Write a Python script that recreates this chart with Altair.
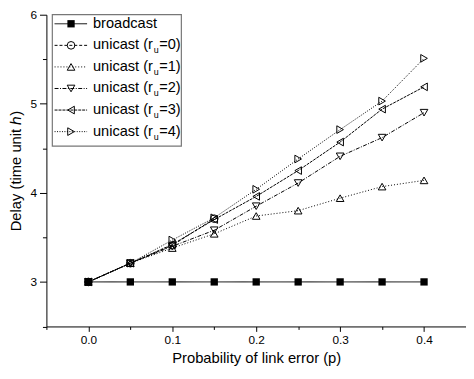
import altair as alt
import pandas as pd

# ---- data ----
p = [0.0, 0.05, 0.1, 0.15, 0.2, 0.25, 0.3, 0.35, 0.4]
broadcast = [3.0, 3.0, 3.0, 3.0, 3.0, 3.0, 3.0, 3.0, 3.0]
unicast_r0 = [3.0, 3.21, 3.41, 3.71]
unicast_r1 = [3.0, 3.21, 3.38, 3.54, 3.74, 3.80, 3.94, 4.07, 4.14]
unicast_r2 = [3.0, 3.21, 3.40, 3.58, 3.85, 4.11, 4.41, 4.62, 4.90]
unicast_r3 = [3.0, 3.21, 3.42, 3.70, 3.96, 4.25, 4.57, 4.94, 5.19]
unicast_r4 = [3.0, 3.21, 3.47, 3.72, 4.04, 4.38, 4.71, 5.03, 5.51]

keys = ["broadcast", "r0", "r1", "r2", "r3", "r4"]
label_main = ["broadcast", "unicast (r", "unicast (r", "unicast (r", "unicast (r", "unicast (r"]
label_sub = ["", "u", "u", "u", "u", "u"]
label_end = ["", "=0)", "=1)", "=2)", "=3)", "=4)"]
shapes = ["square", "circle", "triangle-up", "triangle-down", "triangle-left", "triangle-right"]
dashes = [[1, 0], [3, 2], [1, 2], [4, 1.5, 1, 1.5], [3, 1], [1, 1.5]]

series_values = [broadcast, unicast_r0, unicast_r1, unicast_r2, unicast_r3, unicast_r4]
rows = []
for k, vals in zip(keys, series_values):
    for pi, v in zip(p, vals):
        rows.append({"p": pi, "delay": v, "series": k})
df = pd.DataFrame(rows)

leg = pd.DataFrame({"series": keys, "idx": list(range(len(keys))),
                    "t1": label_main, "t2": label_sub, "t3": label_end})

FONT = "Liberation Sans"

shape_scale = alt.Scale(domain=keys, range=shapes)
dash_scale = alt.Scale(domain=keys, range=dashes)

x_ticks = [-0.05, 0.0, 0.05, 0.1, 0.15, 0.2, 0.25, 0.3, 0.35, 0.4, 0.45]
y_ticks = [2.5, 3, 3.5, 4, 4.5, 5, 5.5, 6]

X = alt.X("p:Q",
          scale=alt.Scale(domain=[-0.05, 0.45], nice=False, zero=False),
          axis=alt.Axis(values=x_ticks, grid=False,
                        title="Probability of link error (p)",
                        labelExpr="round(datum.value*20) % 2 == 0 ? format(datum.value, '.1f') : ''",
                        tickSize={"condition": {"test": "round(datum.value*20) % 2 == 0", "value": 5}, "value": 3},
                        labelFlush=False, labelOverlap=False,
                        labelPadding=3, titlePadding=6))
Y = alt.Y("delay:Q",
          scale=alt.Scale(domain=[2.5, 6], nice=False, zero=False),
          axis=alt.Axis(values=y_ticks, grid=False,
                        title="Delay (time unit \u210e)",
                        labelExpr="datum.value % 1 == 0 ? format(datum.value, 'd') : ''",
                        tickSize={"condition": {"test": "datum.value % 1 == 0", "value": 7}, "value": 4},
                        labelFlush=False, labelOverlap=False,
                        labelPadding=3, titlePadding=7))

base = alt.Chart(df)
lines = base.mark_line(strokeWidth=1, color="black").encode(
    x=X, y=Y,
    strokeDash=alt.StrokeDash("series:N", scale=dash_scale, legend=None),
    detail="series:N")
pts_filled = base.transform_filter("datum.series == 'broadcast'").mark_point(
    filled=True, shape="square", size=55, color="black", opacity=1).encode(x=X, y=Y)
pts_open = base.transform_filter("datum.series != 'broadcast'").mark_point(
    filled=False, size=60, color="black", strokeWidth=1, opacity=1).encode(
    x=X, y=Y, shape=alt.Shape("series:N", scale=shape_scale, legend=None))

# ---- hand-made legend (line sample + marker + label with subscript) ----
lbase = alt.Chart(leg).transform_calculate(ly="9.2 + 21.9*datum.idx")
LY = alt.Y("ly:Q", scale=None)
box = alt.Chart(leg).transform_filter("datum.idx == 0").mark_rect(
    fill="white", stroke="#777777", strokeWidth=1.2).encode(
    x=alt.value(6), x2=alt.value(137), y=alt.value(0), y2=alt.value(133.5))
leg_lines = lbase.mark_rule(strokeWidth=1, color="black").encode(
    x=alt.value(8.3), x2=alt.value(41.3), y=LY,
    strokeDash=alt.StrokeDash("series:N", scale=dash_scale, legend=None))
leg_filled = lbase.transform_filter("datum.series == 'broadcast'").mark_point(
    filled=True, shape="square", size=55, color="black", opacity=1).encode(
    x=alt.value(25), y=LY)
leg_open = lbase.transform_filter("datum.series != 'broadcast'").mark_point(
    filled=False, size=60, color="black", strokeWidth=1, opacity=1).encode(
    x=alt.value(25), y=LY, shape=alt.Shape("series:N", scale=shape_scale, legend=None))
FS = 14.8
t1 = lbase.mark_text(align="left", baseline="middle", font=FONT, fontSize=FS, color="black").encode(
    x=alt.value(47.3), y=LY, text="t1:N")
t2 = lbase.mark_text(align="left", baseline="middle", font=FONT, fontSize=9, color="black", dy=5).encode(
    x=alt.value(47.3 + 4.112 * FS + 0.8), y=LY, text="t2:N")
t3 = lbase.mark_text(align="left", baseline="middle", font=FONT, fontSize=FS, color="black").encode(
    x=alt.value(47.3 + 4.112 * FS + 6.3), y=LY, text="t3:N")

chart = alt.layer(lines, pts_filled, pts_open, box, leg_lines, leg_filled, leg_open, t1, t2, t3).properties(
    width=426, height=316.5,
    autosize=alt.AutoSizeParams(type="none"),
    padding={"left": 39, "top": 4, "right": 0, "bottom": 48},
).configure_view(stroke="transparent").configure_axis(
    domainColor="black", tickColor="black", labelColor="black", titleColor="black",
    labelFont=FONT, titleFont=FONT, labelFontSize=12, titleFontSize=15,
    titleFontWeight="normal", domainWidth=1, tickWidth=1,
)

chart.save("out.html", embed_options={"renderer": "svg", "actions": False})
